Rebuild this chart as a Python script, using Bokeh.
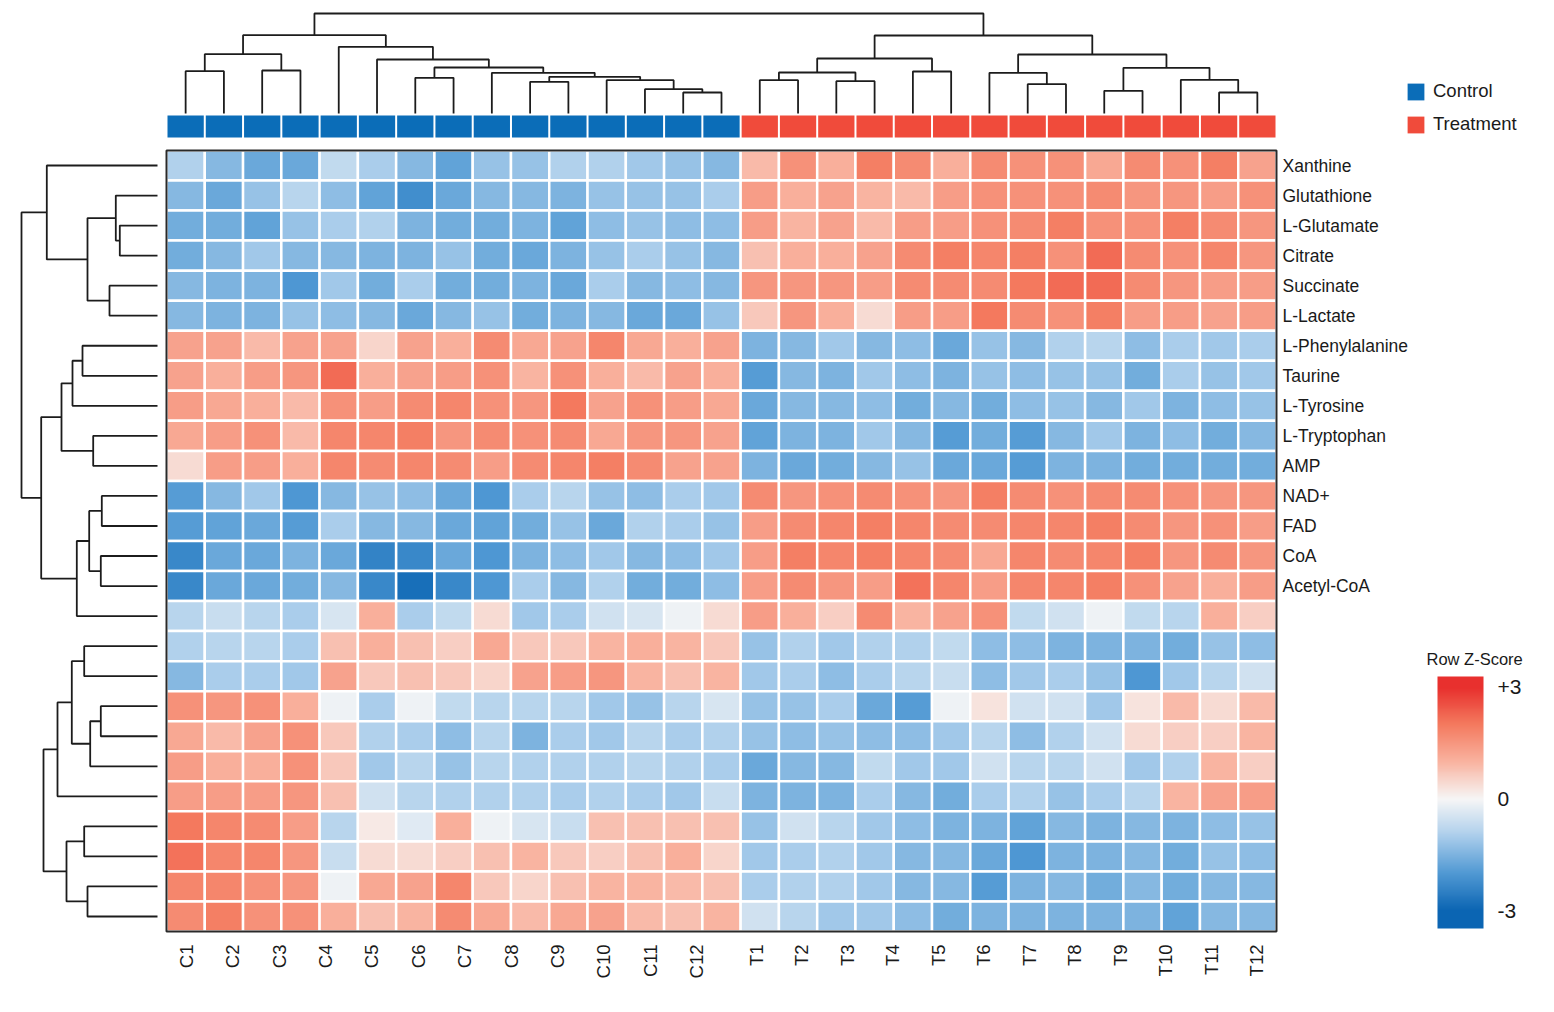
import math
import numpy as np
from bokeh.plotting import figure
from bokeh.layouts import column, row
from bokeh.models import (Range1d, LinearColorMapper, FixedTicker, Legend, LegendItem,
                          ColumnDataSource, ColorBar, Label)
from bokeh.transform import transform
from bokeh.embed import file_html
from bokeh.resources import INLINE

# ---------------- data ----------------
control_labels = ["C1", "C2", "C3", "C4", "C5", "C6", "C7", "C8", "C9", "C10", "C11", "C12"]
treatment_labels = ["T1", "T2", "T3", "T4", "T5", "T6", "T7", "T8", "T9", "T10", "T11", "T12"]
metabolites = ["Xanthine", "Glutathione", "L-Glutamate", "Citrate", "Succinate", "L-Lactate",
               "L-Phenylalanine", "Taurine", "L-Tyrosine", "L-Tryptophan", "AMP",
               "NAD+", "FAD", "CoA", "Acetyl-CoA"]
groups = ["Control", "Treatment"]
n_control_cols = 15
n_treatment_cols = 14

# Row Z-scores, control columns (26 rows x 15)
control_z = [
    [-0.9, -1.4, -1.7, -1.7, -0.7, -1.0, -1.4, -1.8, -1.2, -1.2, -0.9, -0.9, -1.1, -1.2, -1.4],
    [-1.4, -1.7, -1.2, -0.8, -1.3, -1.8, -2.2, -1.7, -1.4, -1.4, -1.5, -1.2, -1.2, -1.2, -1.0],
    [-1.6, -1.6, -1.8, -1.2, -1.0, -0.9, -1.5, -1.6, -1.6, -1.5, -1.8, -1.3, -1.2, -1.3, -1.3],
    [-1.6, -1.4, -1.1, -1.4, -1.4, -1.5, -1.5, -1.2, -1.6, -1.7, -1.5, -1.2, -1.0, -1.2, -1.4],
    [-1.4, -1.5, -1.5, -2.0, -1.1, -1.6, -1.0, -1.6, -1.6, -1.5, -1.7, -1.0, -1.4, -1.3, -1.4],
    [-1.4, -1.5, -1.5, -1.2, -1.3, -1.4, -1.7, -1.4, -1.2, -1.6, -1.5, -1.4, -1.7, -1.7, -1.2],
    [1.3, 1.3, 0.9, 1.3, 1.3, 0.5, 1.3, 1.1, 1.7, 1.2, 1.3, 1.8, 1.2, 1.1, 1.3],
    [1.3, 1.1, 1.4, 1.5, 2.2, 1.1, 1.3, 1.4, 1.6, 1.0, 1.6, 1.1, 0.9, 1.3, 1.1],
    [1.4, 1.2, 1.1, 0.9, 1.6, 1.4, 1.7, 1.8, 1.6, 1.5, 2.0, 1.3, 1.6, 1.4, 1.2],
    [1.2, 1.4, 1.6, 0.9, 1.8, 1.8, 1.9, 1.5, 1.7, 1.6, 1.7, 1.2, 1.5, 1.5, 1.3],
    [0.4, 1.4, 1.4, 1.1, 1.8, 1.7, 1.8, 1.7, 1.4, 1.7, 1.8, 1.9, 1.7, 1.3, 1.3],
    [-1.9, -1.4, -1.1, -2.0, -1.4, -1.2, -1.3, -1.7, -2.0, -1.0, -0.8, -1.2, -1.3, -1.0, -1.1],
    [-1.9, -1.8, -1.7, -1.9, -1.0, -1.4, -1.4, -1.7, -1.8, -1.6, -1.2, -1.7, -0.9, -1.0, -1.2],
    [-2.3, -1.7, -1.7, -1.5, -1.7, -2.4, -2.3, -1.7, -2.0, -1.5, -1.3, -1.1, -1.4, -1.3, -1.1],
    [-2.3, -1.7, -1.7, -1.6, -1.4, -2.3, -2.8, -2.3, -2.0, -1.0, -1.4, -0.9, -1.6, -1.6, -1.3],
    [-0.8, -0.6, -0.8, -1.0, -0.4, 1.1, -1.0, -0.7, 0.4, -1.1, -1.0, -0.5, -0.4, -0.1, 0.4],
    [-0.9, -0.8, -0.8, -1.0, 0.8, 1.1, 0.8, 0.6, 1.2, 0.7, 0.7, 1.0, 1.1, 1.0, 0.7],
    [-1.4, -1.0, -1.0, -1.1, 1.3, 0.7, 0.8, 0.7, 0.5, 1.3, 1.4, 1.5, 1.0, 0.8, 1.0],
    [1.6, 1.5, 1.6, 1.1, -0.1, -1.0, -0.1, -0.7, -0.8, -0.8, -0.8, -1.1, -1.2, -0.8, -0.4],
    [1.2, 0.9, 1.3, 1.6, 0.7, -0.9, -1.0, -1.3, -0.8, -1.5, -1.0, -1.1, -0.8, -1.0, -0.9],
    [1.4, 1.1, 1.1, 1.6, 0.7, -1.1, -0.8, -1.2, -0.8, -0.9, -0.9, -0.9, -0.8, -0.9, -1.0],
    [1.4, 1.4, 1.4, 1.5, 0.8, -0.5, -0.8, -0.9, -0.9, -0.9, -1.0, -0.9, -1.0, -1.1, -0.6],
    [2.0, 1.8, 1.7, 1.4, -0.8, 0.2, -0.3, 1.1, -0.1, -0.4, -0.6, 0.8, 0.8, 0.8, 0.8],
    [2.1, 1.8, 1.8, 1.5, -0.6, 0.4, 0.4, 0.6, 0.8, 1.0, 0.7, 0.6, 0.8, 1.1, 0.5],
    [1.8, 1.8, 1.6, 1.5, -0.1, 1.2, 1.3, 1.8, 0.7, 0.5, 0.8, 1.0, 1.0, 0.9, 0.8],
    [1.7, 1.9, 1.6, 1.6, 1.1, 0.8, 1.0, 1.7, 1.2, 0.9, 1.2, 1.3, 0.9, 0.8, 1.0],
]

# Row Z-scores, treatment columns (26 rows x 14)
treatment_z = [
    [0.9, 1.6, 1.1, 1.9, 1.7, 1.1, 1.7, 1.6, 1.6, 1.2, 1.7, 1.6, 1.9, 1.3],
    [1.4, 1.1, 1.3, 1.0, 0.9, 1.4, 1.6, 1.6, 1.6, 1.7, 1.5, 1.5, 1.4, 1.6],
    [1.4, 1.0, 1.3, 0.9, 1.4, 1.4, 1.6, 1.7, 1.9, 1.6, 1.6, 1.9, 1.7, 1.5],
    [0.8, 1.1, 1.1, 1.3, 1.7, 1.9, 1.8, 1.9, 1.6, 2.2, 1.7, 1.6, 1.8, 1.5],
    [1.5, 1.5, 1.5, 1.4, 1.7, 1.7, 1.7, 2.0, 2.2, 2.2, 1.7, 1.5, 1.4, 1.4],
    [0.7, 1.5, 1.1, 0.4, 1.4, 1.4, 2.0, 1.7, 1.6, 1.9, 1.4, 1.4, 1.3, 1.4],
    [-1.5, -1.4, -1.1, -1.4, -1.3, -1.7, -1.2, -1.4, -0.9, -0.8, -1.3, -1.0, -1.1, -1.0],
    [-1.9, -1.4, -1.5, -1.1, -1.3, -1.5, -1.2, -1.3, -1.2, -1.2, -1.6, -1.0, -1.2, -1.1],
    [-1.7, -1.4, -1.4, -1.3, -1.6, -1.4, -1.6, -1.3, -1.2, -1.4, -1.1, -1.5, -1.3, -1.2],
    [-1.8, -1.5, -1.5, -1.1, -1.4, -1.9, -1.6, -1.9, -1.4, -1.1, -1.5, -1.3, -1.6, -1.4],
    [-1.5, -1.7, -1.6, -1.4, -1.2, -1.7, -1.7, -1.9, -1.5, -1.5, -1.6, -1.6, -1.6, -1.6],
    [1.7, 1.5, 1.6, 1.7, 1.6, 1.5, 1.9, 1.7, 1.6, 1.7, 1.7, 1.6, 1.5, 1.5],
    [1.4, 1.7, 1.8, 1.9, 1.8, 1.7, 1.7, 1.8, 1.8, 1.9, 1.7, 1.5, 1.6, 1.4],
    [1.4, 1.9, 1.8, 1.9, 1.8, 1.7, 1.2, 1.8, 1.7, 1.8, 1.9, 1.5, 1.7, 1.5],
    [1.4, 1.7, 1.5, 1.4, 2.1, 1.8, 1.4, 1.8, 1.8, 1.9, 1.6, 1.3, 1.1, 1.4],
    [1.4, 1.1, 0.6, 1.7, 1.0, 1.3, 1.6, -0.7, -0.5, -0.1, -0.7, -0.8, 1.1, 0.6],
    [-1.2, -0.9, -1.1, -0.9, -0.9, -0.7, -1.3, -1.3, -1.5, -1.5, -1.5, -1.6, -1.2, -1.3],
    [-1.1, -1.0, -1.3, -1.0, -0.8, -0.6, -1.3, -1.1, -1.0, -1.2, -2.0, -1.1, -0.8, -0.5],
    [-1.2, -1.2, -1.0, -1.7, -1.9, -0.1, 0.3, -0.5, -0.5, -1.1, 0.3, 0.9, 0.4, 0.9],
    [-1.2, -1.3, -1.2, -1.3, -1.3, -1.1, -0.8, -1.3, -0.9, -0.5, 0.4, 0.6, 0.6, 1.0],
    [-1.7, -1.4, -1.4, -0.7, -1.1, -1.1, -0.5, -0.8, -0.8, -0.5, -1.1, -0.9, 1.0, 0.6],
    [-1.5, -1.5, -1.5, -1.0, -1.4, -1.6, -1.0, -0.9, -1.2, -1.0, -0.8, 1.0, 1.3, 1.4],
    [-1.2, -0.5, -0.8, -1.1, -1.3, -1.5, -1.5, -1.8, -1.4, -1.5, -1.4, -1.5, -1.3, -1.2],
    [-1.1, -1.0, -0.9, -1.1, -1.4, -1.4, -1.7, -2.0, -1.5, -1.5, -1.4, -1.6, -1.2, -1.3],
    [-1.0, -0.9, -0.9, -1.1, -1.4, -1.4, -1.9, -1.5, -1.4, -1.6, -1.4, -1.6, -1.4, -1.4],
    [-0.5, -0.8, -1.1, -1.1, -1.3, -1.6, -1.5, -1.5, -1.5, -1.5, -1.5, -1.8, -1.4, -1.4],
]

# column dendrogram: (child_a, child_b, height); leaves 0..28, new nodes 29..
col_merges = [
    (0, 1, 42.3), (2, 3, 43.0), (29, 30, 59.3), (13, 14, 21.0), (12, 32, 24.3),
    (11, 33, 33.3), (9, 10, 31.7), (35, 34, 36.7), (8, 36, 40.7), (6, 7, 35.7),
    (38, 37, 46.0), (5, 39, 54.0), (4, 40, 66.7), (31, 41, 78.3),
    (15, 16, 33.3), (17, 18, 32.3), (43, 44, 41.0), (19, 20, 42.0), (45, 46, 55.0),
    (22, 23, 29.3), (21, 48, 40.7), (24, 25, 22.7), (27, 28, 21.0), (26, 51, 33.7),
    (50, 52, 45.7), (49, 53, 59.0), (47, 54, 78.0), (42, 55, 100.0),
]
# row dendrogram: leaves 0..25, new nodes 26..  (last two groups left unjoined)
row_merges = [
    (2, 3, 37.7), (1, 26, 41.7), (4, 5, 48.0), (27, 28, 70.0), (0, 29, 110.7),
    (6, 7, 75.0), (31, 8, 85.0), (9, 10, 64.3), (32, 33, 96.0),
    (11, 12, 55.7), (13, 14, 56.7), (35, 36, 68.3), (37, 15, 80.7),
    (34, 38, 116.3), (30, 39, 136.0),
    (16, 17, 73.3), (18, 19, 56.7), (42, 20, 67.3), (41, 43, 85.7), (44, 21, 100.0),
    (22, 23, 73.3), (24, 25, 70.0), (46, 47, 91.0), (45, 48, 114.0),
]

# ---------------- styling ----------------
FONT = "Liberation Sans"
TXT = "#1a1a1a"
LINE = "#1c1c1c"
CTRL_COLOR = "#0b6db8"
TRT_COLOR = "#f04b3b"
stops = [(-3, "#0b65b3"), (-2, "#4f98d3"), (-1, "#aacdeb"), (0, "#f6f6f6"),
         (1, "#f9b4a1"), (2, "#f47a5f"), (3, "#e8302e")]


def hex2rgb(h):
    return [int(h[i:i + 2], 16) for i in (1, 3, 5)]


def build_palette(lo=-3.0, hi=3.0, n=256):
    sv = [s[0] for s in stops]
    rgb = np.array([hex2rgb(s[1]) for s in stops], dtype=float)
    out = []
    for v in np.linspace(lo, hi, n):
        v = min(max(v, -3.0), 3.0)
        r, g, b = (np.interp(v, sv, rgb[:, k]) for k in range(3))
        out.append("#%02x%02x%02x" % (int(round(r)), int(round(g)), int(round(b))))
    return out


mapper = LinearColorMapper(palette=build_palette(), low=-3, high=3)

n_rows = len(control_z)
n_cols = n_control_cols + n_treatment_cols
cw = 1110 / n_cols   # px per column
chh = 781 / n_rows   # px per row
HX0 = 166


def dendro_segments(n, merges):
    pos = {i: i + 0.5 for i in range(n)}
    hgt = {i: 0.0 for i in range(n)}
    segs = []
    for k, (a, b, h) in enumerate(merges):
        segs.append(([pos[a], pos[a], pos[b], pos[b]], [hgt[a], h, h, hgt[b]]))
        pos[n + k] = (pos[a] + pos[b]) / 2
        hgt[n + k] = h
    return segs


def clean(p):
    p.grid.visible = False
    p.outline_line_color = None
    p.background_fill_color = "white"
    p.border_fill_color = "white"


# ---------------- top: column dendrogram + annotation ----------------
top = figure(width=1554, height=146, x_range=Range1d(-HX0 / cw, (1554 - HX0) / cw),
             y_range=Range1d(-33, 113), x_axis_location=None, y_axis_location=None,
             toolbar_location=None, output_backend="svg",
             min_border_left=0, min_border_right=0, min_border_top=0, min_border_bottom=0)
clean(top)
segs = dendro_segments(n_cols, col_merges)
top.multi_line(xs=[s[0] for s in segs], ys=[s[1] for s in segs], line_color=LINE, line_width=1.8)

col_group = [groups[0]] * n_control_cols + [groups[1]] * n_treatment_cols
gap = 1.0 / cw
rends = []
for g, colr in zip(groups, [CTRL_COLOR, TRT_COLOR]):
    idx = [i for i, cg in enumerate(col_group) if cg == g]
    r = top.quad(left=[i + gap for i in idx], right=[i + 1 - gap for i in idx], top=-2, bottom=-24,
                 fill_color=colr, line_color=None)
    rends.append(r)
legend = Legend(items=[LegendItem(label=g, renderers=[r]) for g, r in zip(groups, rends)],
                location=(1405, 11), padding=0, margin=0, spacing=11,
                glyph_width=21, glyph_height=21, label_height=21, label_standoff=7,
                label_text_font=FONT, label_text_font_size="18.5px", label_text_color=TXT,
                border_line_color=None, background_fill_alpha=0)
top.add_layout(legend)

# ---------------- main: heatmap + row dendrogram ----------------
main = figure(width=1416, height=866,
              x_range=Range1d(-HX0 / cw, n_cols + 3 / cw),
              y_range=Range1d(n_rows + 3 / chh, -4 / chh),
              x_axis_location="below", y_axis_location="right",
              toolbar_location=None, output_backend="svg",
              min_border_left=0, min_border_top=0, min_border_right=137, min_border_bottom=78)
clean(main)

xs, ys, zs = [], [], []
for r in range(n_rows):
    vals = control_z[r] + treatment_z[r]
    for c, v in enumerate(vals):
        xs.append(c + 0.5); ys.append(r + 0.5); zs.append(v)
src = ColumnDataSource(dict(x=xs, y=ys, z=zs))
main.rect(x="x", y="y", width=1, height=1, source=src,
          fill_color=transform("z", mapper), line_color="white", line_width=2.5)
main.quad(left=0, right=n_cols, top=0, bottom=n_rows, fill_color=None,
          line_color="#2a2a2a", line_width=2)

rsegs = dendro_segments(n_rows, row_merges)
main.multi_line(xs=[[-(9 + d) / cw for d in s[1]] for s in rsegs], ys=[s[0] for s in rsegs],
                line_color=LINE, line_width=1.8)

# right axis: metabolite names
ya = main.yaxis[0]
ya.ticker = FixedTicker(ticks=[i + 0.5 for i in range(len(metabolites))])
ya.major_label_overrides = {i + 0.5: m for i, m in enumerate(metabolites)}
ya.axis_line_color = None
ya.major_tick_line_color = None
ya.minor_tick_line_color = None
ya.major_tick_out = 0
ya.major_tick_in = 0
ya.major_label_standoff = 3
ya.major_label_text_font = FONT
ya.major_label_text_font_size = "17.5px"
ya.major_label_text_color = TXT

# bottom axis: sample names
c_pos = [0.52 + k * (13.85 - 0.52) / 11 for k in range(len(control_labels))]
t_pos = [15.41 + k * (28.48 - 15.41) / 11 for k in range(len(treatment_labels))]
xa = main.xaxis[0]
xa.ticker = FixedTicker(ticks=c_pos + t_pos)
xa.major_label_overrides = {p: l for p, l in zip(c_pos + t_pos, control_labels + treatment_labels)}
xa.major_label_orientation = math.pi / 2
xa.axis_line_color = None
xa.major_tick_line_color = None
xa.minor_tick_line_color = None
xa.major_tick_out = 0
xa.major_tick_in = 0
xa.major_label_standoff = 10
xa.major_label_text_font = FONT
xa.major_label_text_font_size = "18.5px"
xa.major_label_text_color = TXT

# ---------------- side: colour key ----------------
zlo, zhi = -3.46, 3.29
side = figure(width=138, height=866, x_range=Range1d(0, 1), y_range=Range1d(0, 1),
              x_axis_location=None, y_axis_location=None,
              toolbar_location=None, output_backend="svg",
              min_border_left=0, min_border_right=0, min_border_top=0, min_border_bottom=78)
clean(side)
cb_mapper = LinearColorMapper(palette=build_palette(zlo, zhi), low=zlo, high=zhi)
cb = ColorBar(color_mapper=cb_mapper, ticker=FixedTicker(ticks=[-3, 0, 3]),
              major_label_overrides={-3: "-3", 0: "0", 3: "+3"},
              orientation="vertical", width=46, height=252, location=(21, 6), padding=0, margin=0,
              major_label_text_font=FONT, major_label_text_font_size="21px",
              major_label_text_color=TXT, label_standoff=14,
              major_tick_line_color=None, minor_tick_line_color=None,
              bar_line_color=None, border_line_color=None, background_fill_alpha=0)
side.add_layout(cb)
side.add_layout(Label(x=10, y=276, x_units="screen", y_units="screen", text="Row Z-Score",
                      text_font=FONT, text_font_size="16.5px", text_color=TXT,
                      text_align="left", text_baseline="middle"))

layout = column(top, row(main, side))
open("out.html", "w").write(file_html(layout, INLINE))
